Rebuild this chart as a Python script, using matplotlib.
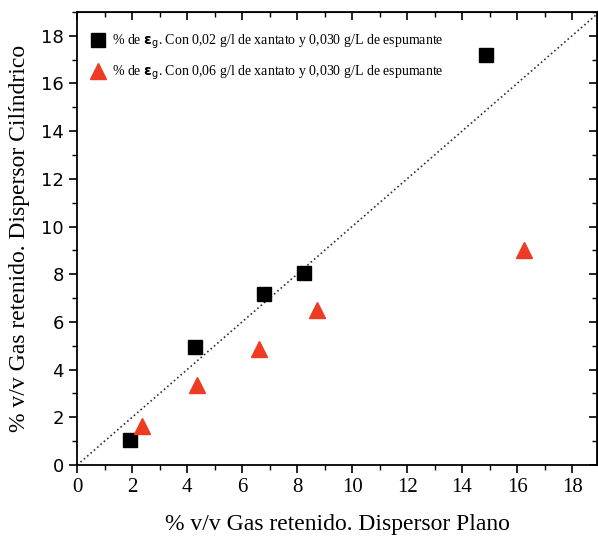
import matplotlib
matplotlib.use("Agg")
import matplotlib.pyplot as plt
from matplotlib.ticker import MultipleLocator

plt.rcParams['font.family'] = ['Liberation Serif', 'DejaVu Sans']
plt.rcParams['mathtext.fontset'] = 'dejavusans'

# Data
x_sq = [1.92, 4.28, 6.81, 8.26, 14.86]
y_sq = [1.05, 4.96, 7.18, 8.07, 17.18]
x_tr = [2.36, 4.35, 6.63, 8.73, 16.27]
y_tr = [1.65, 3.35, 4.85, 6.5, 9.0]
xticks = [0, 2, 4, 6, 8, 10, 12, 14, 16, 18]
yticks = [0, 2, 4, 6, 8, 10, 12, 14, 16, 18]
label_sq = r"% de $\mathbf{\epsilon}_{\mathrm{g}}$. Con 0,02 g/l de xantato y 0,030 g/L de espumante"
label_tr = r"% de $\mathbf{\epsilon}_{\mathrm{g}}$. Con 0,06 g/l de xantato y 0,030 g/L de espumante"
xlabel = "% v/v Gas retenido. Dispersor Plano"
ylabel = "% v/v Gas retenido. Dispersor Cilíndrico"

fig = plt.figure(figsize=(5.98, 5.41), dpi=100)
ax = fig.add_axes([0.129, 0.1405, 0.869, 0.8375])

ax.plot([0, 19], [0, 19], linestyle=':', color='#333333', lw=1.2, zorder=1)
ax.plot(x_sq, y_sq, linestyle='none', marker='s', markersize=9.5,
        color='black', label=label_sq, zorder=3)
ax.plot(x_tr, y_tr, linestyle='none', marker='^', markersize=11,
        color='#ee3b24', label=label_tr, zorder=3)
ax.set_xlim(0, 18.9)
ax.set_ylim(0, 19.0)

ax.set_xticks(xticks)
ax.set_xticklabels([str(t) for t in xticks], fontfamily='Liberation Serif', fontsize=15)
ax.set_yticks(yticks)
ax.set_yticklabels([str(t) for t in yticks], fontfamily='DejaVu Sans', fontsize=13)
ax.xaxis.set_minor_locator(MultipleLocator(1))
ax.yaxis.set_minor_locator(MultipleLocator(1))
ax.tick_params(which='major', direction='out', length=6, width=1.2)
ax.tick_params(which='minor', direction='out', length=3.5, width=1.0)

for s in ax.spines.values():
    s.set_linewidth(1.3)

secx = ax.secondary_xaxis('top')
secx.set_xticks(xticks)
secx.xaxis.set_minor_locator(MultipleLocator(1))
secx.tick_params(which='major', direction='in', length=6, width=1.2, labeltop=False)
secx.tick_params(which='minor', direction='in', length=3.5, width=1.0)
secy = ax.secondary_yaxis('right')
secy.set_yticks(yticks)
secy.yaxis.set_minor_locator(MultipleLocator(1))
secy.tick_params(which='major', direction='in', length=6, width=1.2, labelright=False)
secy.tick_params(which='minor', direction='in', length=3.5, width=1.0)

ax.set_xlabel(xlabel, fontfamily='Liberation Serif', fontsize=17, labelpad=12)
ax.set_ylabel(ylabel, fontfamily='Liberation Serif', fontsize=17, labelpad=8)

leg = ax.legend(loc='upper left', frameon=False, prop={'family': 'Liberation Serif', 'size': 10},
                handletextpad=0.4, borderaxespad=0.3, labelspacing=0.9, handlelength=1.2,
                bbox_to_anchor=(0.005, 0.975))

fig.savefig('out.png', dpi=100)
